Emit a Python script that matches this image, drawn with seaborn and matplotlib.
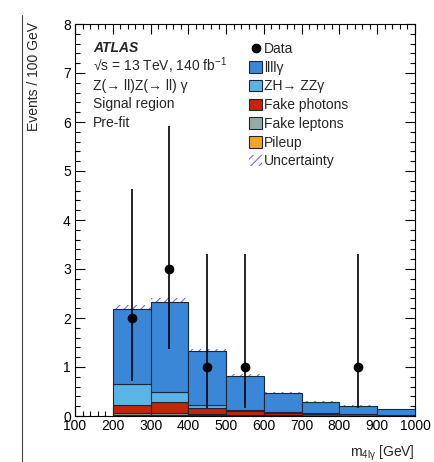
import numpy as np
import pandas as pd
import matplotlib
matplotlib.use("Agg")
import matplotlib.pyplot as plt
from matplotlib.lines import Line2D
from matplotlib.patches import Patch
import seaborn as sns

# ---------------- data ----------------
bin_edges = [200, 300, 400, 500, 600, 700, 800, 900, 1000]
bin_centers = [250, 350, 450, 550, 650, 750, 850, 950]

process_names = ["llllγ", "ZH→ ZZγ", "Fake photons", "Fake leptons", "Pileup"]
llll_gamma   = [1.53, 1.84, 1.10, 0.69, 0.395, 0.225, 0.165, 0.12]
zh_zzgamma   = [0.43, 0.21, 0.065, 0.01, 0.005, 0.005, 0.005, 0.005]
fake_photons = [0.17, 0.22, 0.115, 0.09, 0.05, 0.04, 0.03, 0.01]
fake_leptons = [0.03, 0.03, 0.02, 0.01, 0.01, 0.005, 0.005, 0.0]
pileup       = [0.03, 0.03, 0.02, 0.01, 0.01, 0.005, 0.005, 0.0]
uncertainty  = [0.07, 0.07, 0.05, 0.04, 0.03, 0.02, 0.02, 0.015]

data_x      = [250, 350, 450, 550, 850]
data_y      = [2, 3, 1, 1, 1]
data_err_lo = [1.29, 1.63, 0.83, 0.83, 0.83]
data_err_hi = [2.64, 2.92, 2.30, 2.30, 2.30]

colors = ["#3a87d8", "#5ab5e6", "#c42509", "#95aaa4", "#f6a623"]
hatch_color = "#7070dd"

# ---------------- style ----------------
sns.set_style("ticks")
plt.rcParams["font.family"] = ["Liberation Sans", "DejaVu Sans"]
plt.rcParams["mathtext.default"] = "regular"
plt.rcParams["hatch.linewidth"] = 0.8
plt.rcParams["font.size"] = 10

fig = plt.figure(figsize=(4.35, 4.62), dpi=100)
ax = fig.add_axes([75 / 435, 46 / 462, 340 / 435, 392 / 462])

# stacked histogram through seaborn
series = [llll_gamma, zh_zzgamma, fake_photons, fake_leptons, pileup]
rows = []
for name, vals in zip(process_names, series):
    for c, v in zip(bin_centers, vals):
        rows.append({"mass": c, "weight": v, "process": name})
df = pd.DataFrame(rows)

sns.histplot(data=df, x="mass", weights="weight", hue="process",
             hue_order=process_names, palette=colors, bins=bin_edges,
             multiple="stack", element="bars", alpha=1.0,
             edgecolor="#1c2636", linewidth=0.8, legend=False, ax=ax,
             zorder=2)

# uncertainty band
total = np.array(llll_gamma) + np.array(zh_zzgamma) + np.array(fake_photons) \
    + np.array(fake_leptons) + np.array(pileup)
unc = np.array(uncertainty)
lo = np.append(total - unc, (total - unc)[-1])
hi = np.append(total + unc, (total + unc)[-1])
ax.fill_between(bin_edges, lo, hi, step="post", facecolor="none",
                edgecolor=hatch_color, hatch="////", linewidth=0, zorder=1)

# data
ax.errorbar(data_x, data_y, yerr=[data_err_lo, data_err_hi], fmt="o",
            color="black", markersize=6, elinewidth=1.2, capsize=0, zorder=5)

# axes
ax.set_xlim(100, 1000)
ax.set_ylim(0, 8)
ax.set_xticks(np.arange(100, 1001, 100))
ax.set_xticks(np.arange(100, 1001, 20), minor=True)
ax.set_yticks(np.arange(0, 9, 1))
ax.set_yticks(np.arange(0, 8.01, 0.2), minor=True)
ax.tick_params(which="both", direction="in", top=True, right=True,
               labelsize=10, colors="black")
ax.tick_params(which="major", length=7.2, width=0.8)
ax.tick_params(which="minor", length=3.6, width=0.8)
ax.tick_params(axis="x", pad=2)
ax.tick_params(axis="y", pad=3)
for s in ax.spines.values():
    s.set_linewidth(0.8)
    s.set_color("black")

ax.set_xlabel(r"m$_{4l\gamma}$ [GeV]", fontsize=10, loc="right")
ax.xaxis.set_label_coords(1.0, -0.07)
ax.set_ylabel("")
fig.text(34 / 435, 1 - 22 / 462, "Events / 100 GeV", fontsize=10,
         rotation=90, ha="center", va="top")

# annotations
def ftxt(x, y, s, **kw):
    fig.text(x / 435, 1 - y / 462, s, fontsize=10, va="baseline", ha="left", **kw)

ftxt(93, 52, "ATLAS", fontweight="bold", fontstyle="italic")
ftxt(93, 71, "√s = 13 TeV, 140 fb$^{-1}$")
ftxt(93, 90, "Z(→ ll)Z(→ ll) γ")
ftxt(93, 108, "Signal region")
ftxt(93, 127, "Pre-fit")

# legend
handles = [Line2D([], [], marker="o", color="black", linestyle="none", markersize=6)]
for c in colors:
    handles.append(Patch(facecolor=c, edgecolor="#1c2636", linewidth=0.8))
handles.append(Patch(facecolor="none", edgecolor=hatch_color, hatch="////", linewidth=0))
labels = ["Data"] + process_names + ["Uncertainty"]
ax.legend(handles, labels, loc="upper left",
          bbox_to_anchor=((249 - 75) / 340, (416 - 42) / 392),
          frameon=False, fontsize=10, borderpad=0, borderaxespad=0,
          handlelength=0.95, handleheight=0.9, handletextpad=0.15,
          labelspacing=0.34)

# vertical separator line on the left
fig.add_artist(Line2D([22 / 435, 22 / 435], [0, 1 - 15 / 462],
                      transform=fig.transFigure, color="#444444", linewidth=0.8))

fig.savefig("out.png", dpi=100)
